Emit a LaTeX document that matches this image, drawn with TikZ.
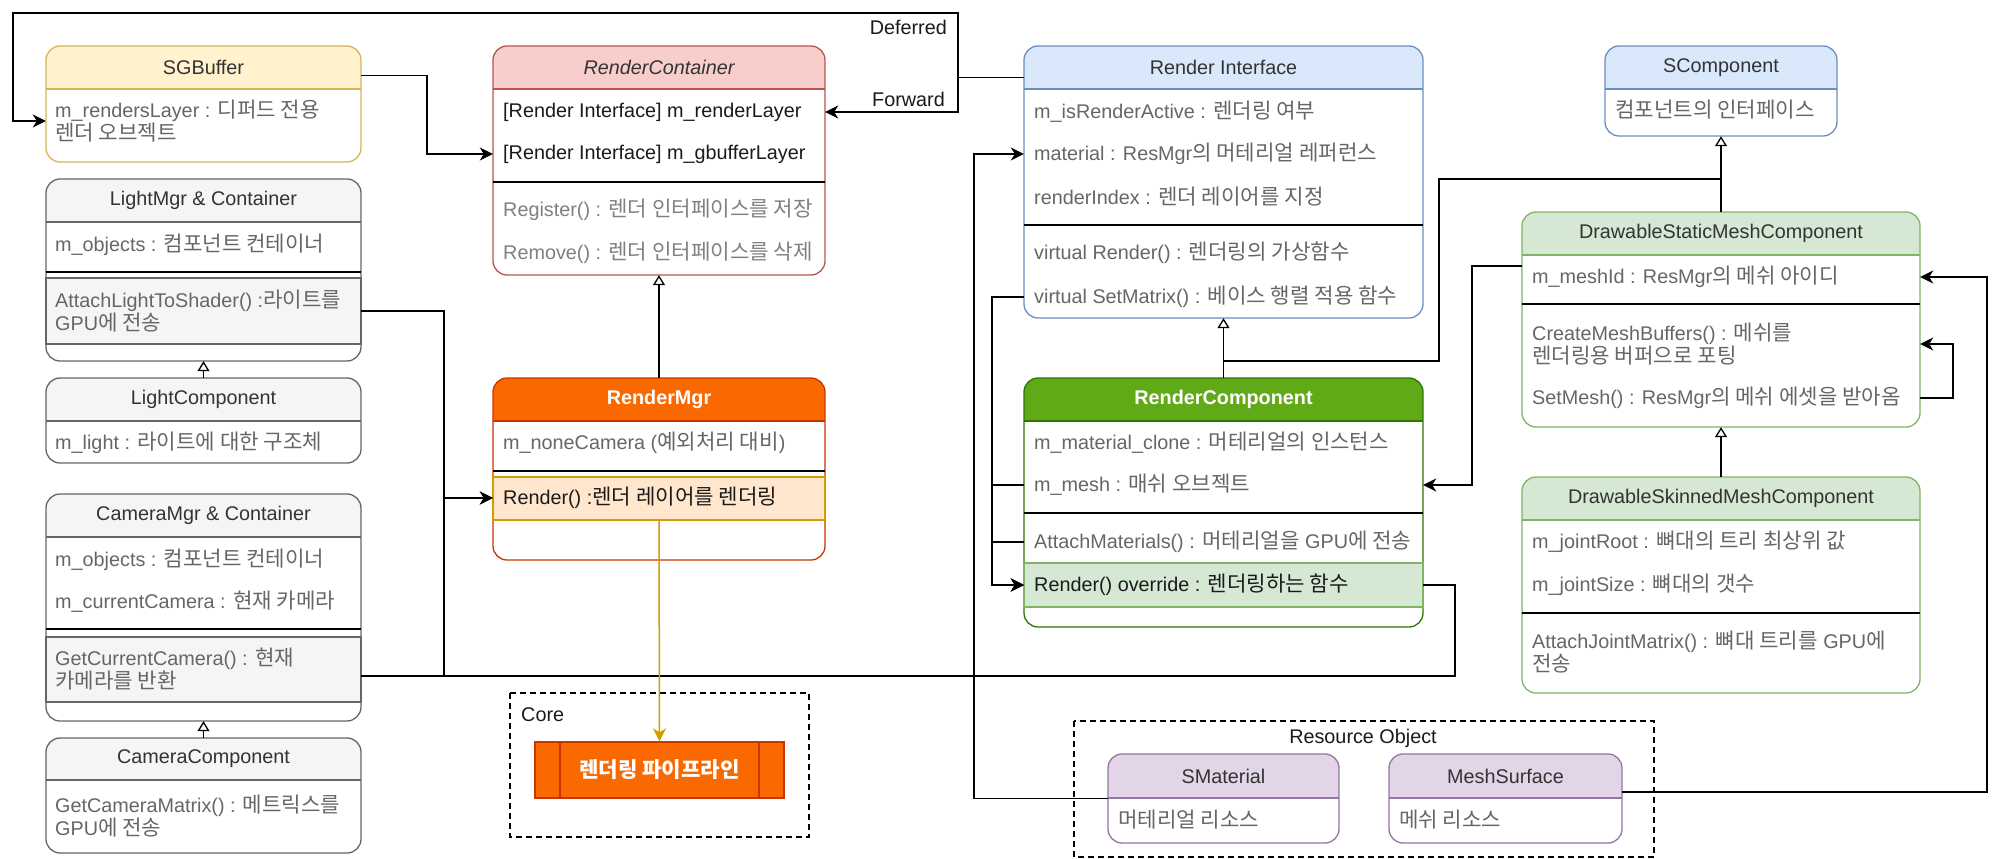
\documentclass[tikz,border=0pt]{standalone}
\usepackage{fontspec}
\setmainfont{Liberation Sans}
\newfontfamily\krfont[Scale=1.07]{Noto Sans CJK KR}
\usepackage{xcolor}
\usetikzlibrary{arrows.meta,fit}

\definecolor{yelF}{HTML}{FFF2CC}\definecolor{yelD}{HTML}{D6B656}\definecolor{yelT}{HTML}{333333}
\definecolor{gryF}{HTML}{F5F5F5}\definecolor{gryD}{HTML}{666666}\definecolor{gryT}{HTML}{333333}
\definecolor{redF}{HTML}{F8CECC}\definecolor{redD}{HTML}{B85450}\definecolor{redT}{HTML}{333333}
\definecolor{orgF}{HTML}{FA6800}\definecolor{orgD}{HTML}{C73500}\definecolor{orgT}{HTML}{FFFFFF}
\definecolor{bluF}{HTML}{DAE8FC}\definecolor{bluD}{HTML}{6C8EBF}\definecolor{bluT}{HTML}{333333}
\definecolor{grnF}{HTML}{60A917}\definecolor{grnD}{HTML}{2D7600}\definecolor{grnT}{HTML}{FFFFFF}
\definecolor{lgrF}{HTML}{D5E8D4}\definecolor{lgrD}{HTML}{82B366}\definecolor{lgrT}{HTML}{333333}
\definecolor{purF}{HTML}{E1D5E7}\definecolor{purD}{HTML}{9673A6}\definecolor{purT}{HTML}{333333}
\definecolor{peachF}{HTML}{FFE6CC}\definecolor{peachD}{HTML}{D79B00}
\definecolor{rowgray}{HTML}{666666}
\definecolor{rowlight}{HTML}{808080}
\definecolor{rowdark}{HTML}{1A1A1A}

\newcommand{\rowfont}{\fontsize{19.8pt}{23pt}\selectfont}
\newcommand{\kor}[1]{{\krfont #1}}

\tikzset{
  conn/.style={draw=black, line width=1.5pt},
  arr/.style={conn, -{Stealth[length=13pt, width=13pt, inset=4pt]}},
  inh/.style={conn, -{Triangle[length=10pt, width=12pt, fill=white, line width=1.3pt]}},
  orgarr/.style={draw=peachD, line width=1.5pt, -{Stealth[length=13pt, width=13pt, inset=4pt]}},
  sepline/.style={draw=black, line width=2pt},
  dashbox/.style={draw=black, line width=1.3pt, dash pattern=on 6pt off 4pt},
  row/.style={anchor=west, inner sep=0pt, align=left, text=rowgray, font=\rowfont},
  lbl/.style={inner sep=0pt, text=rowdark, font=\rowfont}
}

% name, x1, x2, top, header bottom, bottom, colour set, title
\newcommand{\classbox}[8]{%
  \begin{scope}
    \clip[rounded corners=14pt] (#2,#4) rectangle (#3,#6);
    \fill[white] (#2,#4) rectangle (#3,#6);
    \fill[#7F] (#2,#4) rectangle (#3,#5);
  \end{scope}
  \draw[#7D, line width=1.3pt] (#2,#5) -- (#3,#5);
  \draw[#7D, line width=1.3pt, rounded corners=14pt] (#2,#4) rectangle (#3,#6);
  \node[fit={(#2,#4) (#3,#6)}, inner sep=0pt] (#1) {};
  \node[fit={(#2,#4) (#3,#5)}, inner sep=0pt] (#1H) {};
  \node[inner sep=0pt, text=#7T, font=\rowfont] (#1T) at (#1H.center) {#8};
}

\begin{document}
\begin{tikzpicture}[x=1pt, y=-1pt]
    \useasboundingbox (0,0) rectangle (2000,859);
    \fill[white] (0,0) rectangle (2000,859);

    % groups
    \draw[dashbox] (510,693) rectangle (809,837);
    \draw[dashbox] (1074,721) rectangle (1654,857);
    \node[lbl, anchor=west] (coreLbl) at (521,715) {Core};
    \node[lbl] (resLbl) at (1363,738) {Resource Object};

    % left column
    \classbox{sgb}{46}{361}{46}{89}{162}{yel}{SGBuffer}
    \node[row] (sgbL) at (55,121) {m\_rendersLayer : \kor{디퍼드 전용}\\\kor{렌더 오브젝트}};

    \classbox{lm}{46}{361}{179}{222}{361}{gry}{LightMgr \& Container}
    \node[row] (lmO) at (55,245) {m\_objects : \kor{컴포넌트 컨테이너}};
    \draw[sepline] (46,272) -- (361,272);
    \filldraw[fill=gryF, draw=gryD, line width=1.3pt] (46,278) rectangle (361,344);
    \node[row] (lmA) at (55,311) {AttachLightToShader() :\kor{라이트를}\\GPU\kor{에 전송}};

    \classbox{lc}{46}{361}{378}{421}{463}{gry}{LightComponent}
    \node[row] (lcL) at (55,443) {m\_light : \kor{라이트에 대한 구조체}};

    \classbox{cm}{46}{361}{494}{537}{721}{gry}{CameraMgr \& Container}
    \node[row] (cmO) at (55,560) {m\_objects : \kor{컴포넌트 컨테이너}};
    \node[row] (cmC) at (55,602) {m\_currentCamera : \kor{현재 카메라}};
    \draw[sepline] (46,629) -- (361,629);
    \filldraw[fill=gryF, draw=gryD, line width=1.3pt] (46,637) rectangle (361,702);
    \node[row] (cmG) at (55,669) {GetCurrentCamera() : \kor{현재}\\\kor{카메라를 반환}};

    \classbox{cc}{46}{361}{738}{780}{853}{gry}{CameraComponent}
    \node[row] (ccG) at (55,816) {GetCameraMatrix() : \kor{메트릭스를}\\GPU\kor{에 전송}};

    % render container / manager
    \classbox{rc}{493}{825}{46}{89}{275}{red}{\itshape RenderContainer}
    \node[row, text=rowdark] (rcR) at (503,112) {[Render Interface] m\_renderLayer};
    \node[row, text=rowdark] (rcG) at (503,154) {[Render Interface] m\_gbufferLayer};
    \draw[sepline] (493,182) -- (825,182);
    \node[row, text=rowlight] (rcReg) at (503,210) {Register() : \kor{렌더 인터페이스를 저장}};
    \node[row, text=rowlight] (rcRem) at (503,253) {Remove() : \kor{렌더 인터페이스를 삭제}};

    \classbox{rm}{493}{825}{378}{421}{560}{org}{\bfseries RenderMgr}
    \node[row] (rmN) at (503,443) {m\_noneCamera (\kor{예외처리 대비})};
    \draw[sepline] (493,471) -- (825,471);
    \filldraw[fill=peachF, draw=peachD, line width=1.3pt] (493,477) rectangle (825,520);
    \node[row, text=rowdark] (rmR) at (503,498) {Render() :\kor{렌더 레이어를 렌더링}};

    \node[draw=orgD, fill=orgF, line width=1.3pt, minimum width=249pt, minimum height=56pt,
          text=white, font=\rowfont\bfseries] (pipe) at (659.5,770) {\kor{렌더링 파이프라인}};
    \draw[orgD, line width=1.3pt] (560,742) -- (560,798);
    \draw[orgD, line width=1.3pt] (759,742) -- (759,798);

    % render interface / component
    \classbox{ri}{1024}{1423}{46}{89}{318}{blu}{Render Interface}
    \node[row] (riA) at (1034,112) {m\_isRenderActive : \kor{렌더링 여부}};
    \node[row] (riM) at (1034,154) {material : ResMgr\kor{의 머테리얼 레퍼런스}};
    \node[row] (riI) at (1034,197) {renderIndex : \kor{렌더 레이어를 지정}};
    \draw[sepline] (1024,225) -- (1423,225);
    \node[row] (riR) at (1034,253) {virtual Render() : \kor{렌더링의 가상함수}};
    \node[row] (riS) at (1034,297) {virtual SetMatrix() : \kor{베이스 행렬 적용 함수}};

    \classbox{rcm}{1024}{1423}{378}{421}{627}{grn}{\bfseries RenderComponent}
    \node[row] (rcmC) at (1034,443) {m\_material\_clone : \kor{머테리얼의 인스턴스}};
    \node[row] (rcmM) at (1034,485) {m\_mesh : \kor{매쉬 오브젝트}};
    \draw[sepline] (1024,513) -- (1423,513);
    \node[row] (rcmA) at (1034,542) {AttachMaterials() : \kor{머테리얼을} GPU\kor{에 전송}};
    \filldraw[fill=lgrF, draw=lgrD, line width=1.3pt] (1024,563) rectangle (1423,607);
    \node[row, text=rowdark] (rcmR) at (1034,585) {Render() override : \kor{렌더링하는 함수}};

    % components
    \classbox{sc}{1605}{1837}{46}{89}{136}{blu}{SComponent}
    \node[row] (scD) at (1615,110) {\kor{컴포넌트의 인터페이스}};

    \classbox{ds}{1522}{1920}{212}{255}{427}{lgr}{DrawableStaticMeshComponent}
    \node[row] (dsI) at (1532,277) {m\_meshId : ResMgr\kor{의 메쉬 아이디}};
    \draw[sepline] (1522,304) -- (1920,304);
    \node[row] (dsC) at (1532,344) {CreateMeshBuffers() : \kor{메쉬를}\\\kor{렌더링용 버퍼으로 포팅}};
    \node[row] (dsS) at (1532,398) {SetMesh() : ResMgr\kor{의 메쉬 에셋을 받아옴}};

    \classbox{dk}{1522}{1920}{477}{520}{693}{lgr}{DrawableSkinnedMeshComponent}
    \node[row] (dkR) at (1532,542) {m\_jointRoot : \kor{뼈대의 트리 최상위 값}};
    \node[row] (dkS) at (1532,585) {m\_jointSize : \kor{뼈대의 갯수}};
    \draw[sepline] (1522,613) -- (1920,613);
    \node[row] (dkA) at (1532,652) {AttachJointMatrix() : \kor{뼈대 트리를} GPU\kor{에}\\\kor{전송}};

    % resources
    \classbox{sm}{1108}{1339}{754}{798}{843}{pur}{SMaterial}
    \node[row] (smD) at (1118,820) {\kor{머테리얼 리소스}};
    \classbox{ms}{1389}{1622}{754}{798}{843}{pur}{MeshSurface}
    \node[row] (msD) at (1399,820) {\kor{메쉬 리소스}};

    % labels on the layer switch
    \node[lbl, anchor=east] (defLbl) at (947,27) {Deferred};
    \node[lbl, anchor=east] (fwdLbl) at (945,99) {Forward};

    % connectors
    \coordinate (cmOut) at (cm.east |- 0,676);
    \coordinate (dsOut) at (ds.west |- 0,266);
    \coordinate (msOut) at (ms.east |- 0,792);
    \coordinate (scJoin) at (sc.south |- 0,179);
    \coordinate (rmOut) at (rm.south |- 0,520);

    \draw[arr] ([yshift=-10pt]riH.west) -- ++(-66,0) |- (rcR -| rc.east);
    \draw[arr] ([yshift=-10pt]riH.west) -- ++(-66,0) |- (13,13) |- (sgbL -| sgb.west);
    \draw[arr] ([yshift=-8pt]sgbH.east) -- ++(66,0) |- (rcG -| rc.west);
    \draw[arr] (lmA -| lm.east) -- ++(83,0) |- (rmR -| rm.west);
    \draw[arr] (cmOut) -- ++(83,0) |- (rmR -| rm.west);
    \draw[conn] (rcmR -| rcm.east) -- ++(32,0) |- (cmOut);
    \draw[arr] (sm.west) -- ++(-134,0) |- (riM -| ri.west);
    \draw[arr] (riS -| ri.west) -- ++(-32,0) |- (rcmR -| rcm.west);
    \draw[arr] (rcmM -| rcm.west) -- ++(-32,0) |- (rcmR -| rcm.west);
    \draw[arr] (rcmA -| rcm.west) -- ++(-32,0) |- (rcmR -| rcm.west);
    \draw[arr] (dsOut) -- ++(-50,0) |- (rcmM -| rcm.east);
    \draw[arr] (dsS -| ds.east) -- ++(33,0) |- (dsC -| ds.east);
    \draw[arr] (msOut) -- ++(365,0) |- (dsI -| ds.east);
    \draw[orgarr] (rmOut) -- (pipe.north);

    % inheritance
    \draw[inh] (rmH.north) -- (rc.south);
    \draw[inh] (rcmH.north) -- (ri.south);
    \draw[conn] (rcmH.north) -- ++(0,-17) -| (1439,179) -- (scJoin);
    \draw[inh] (dsH.north) -- (sc.south);
    \draw[inh] (dkH.north) -- (ds.south);
    \draw[inh] (lcH.north) -- (lm.south);
    \draw[inh] (ccH.north) -- (cm.south);
\end{tikzpicture}
\end{document}
